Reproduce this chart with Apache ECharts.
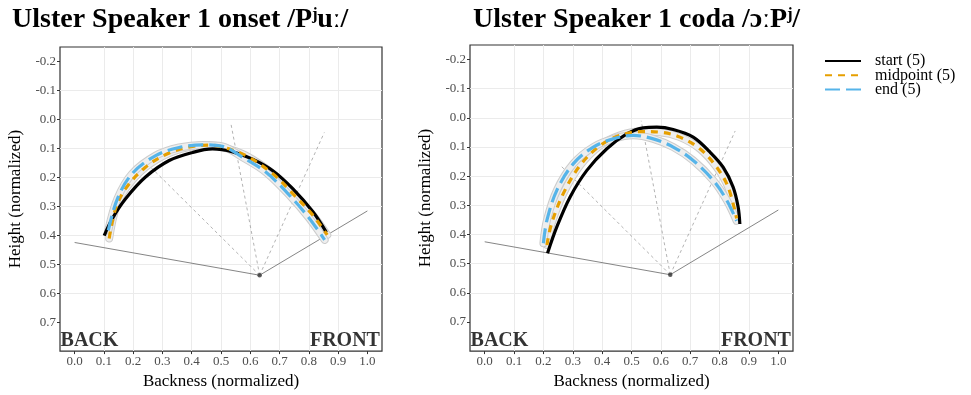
<!DOCTYPE html>
<html>
<head>
<meta charset="utf-8">
<script src="https://cdn.jsdelivr.net/npm/echarts@6/dist/echarts.min.js"></script>
<style>
html,body{margin:0;padding:0;background:#fff;}
#chart{width:971px;height:395px;}
</style>
</head>
<body>
<div id="chart"></div>
<script>
// ---------- data ----------
const titles = ['Ulster Speaker 1 onset /P\u02B2u\u02D0/', 'Ulster Speaker 1 coda /\u0254\u02D0P\u02B2/'];
const seriesNames = ['start (5)', 'midpoint (5)', 'end (5)'];
const xTicks = [0.0, 0.1, 0.2, 0.3, 0.4, 0.5, 0.6, 0.7, 0.8, 0.9, 1.0];
const yTicks = [-0.2, -0.1, 0.0, 0.1, 0.2, 0.3, 0.4, 0.5, 0.6, 0.7];

// onset panel
const onsetStart = [[0.101,0.401],[0.129,0.342],[0.174,0.274],[0.242,0.199],[0.323,0.142],[0.403,0.114],[0.471,0.102],[0.540,0.112],[0.608,0.137],[0.677,0.177],[0.745,0.239],[0.814,0.319],[0.860,0.390]];
const onsetMid = [[0.118,0.411],[0.140,0.308],[0.174,0.239],[0.242,0.165],[0.323,0.116],[0.403,0.093],[0.460,0.089],[0.500,0.094],[0.585,0.125],[0.677,0.188],[0.745,0.256],[0.814,0.331],[0.863,0.399]];
const onsetEnd = [[0.115,0.383],[0.146,0.274],[0.196,0.188],[0.277,0.125],[0.357,0.097],[0.437,0.088],[0.505,0.093],[0.574,0.131],[0.653,0.182],[0.734,0.262],[0.802,0.342],[0.854,0.416]];

// coda panel
const codaStart = [[0.214,0.464],[0.246,0.373],[0.291,0.271],[0.348,0.180],[0.416,0.106],[0.484,0.055],[0.540,0.034],[0.586,0.032],[0.642,0.040],[0.710,0.066],[0.767,0.117],[0.812,0.169],[0.846,0.237],[0.863,0.305],[0.869,0.364]];
const codaMid = [[0.212,0.436],[0.228,0.362],[0.268,0.259],[0.325,0.163],[0.393,0.095],[0.461,0.060],[0.529,0.047],[0.597,0.049],[0.665,0.066],[0.733,0.106],[0.790,0.169],[0.829,0.237],[0.858,0.345]];
const codaEnd = [[0.200,0.430],[0.212,0.351],[0.246,0.248],[0.302,0.157],[0.370,0.100],[0.438,0.072],[0.506,0.060],[0.574,0.072],[0.642,0.100],[0.710,0.146],[0.778,0.214],[0.824,0.282],[0.858,0.353]];

// vowel-space frame (same in both panels)
const origin = [0.632, 0.538];
const floorLine = [[0.0, 0.425], [0.632, 0.538], [1.0, 0.316]];
const rayEnds = [[0.258, 0.163], [0.533, 0.010], [0.853, 0.045]];
const cornerLabels = [{text: 'BACK', pos: [-0.048, 0.765], side: 'right'}, {text: 'FRONT', pos: [1.043, 0.765], side: 'left'}];

const panelCurves = [[onsetStart, onsetMid, onsetEnd], [codaStart, codaMid, codaEnd]];

// ---------- styling ----------
const FONT = "'Liberation Serif', 'DejaVu Serif', serif";
const grids = [
  {left: 60, top: 47, width: 322, height: 306},
  {left: 470, top: 45, width: 323, height: 308}
];
const curveStyles = [
  {color: '#000000', width: 3.2, type: 'solid'},
  {color: '#E69F00', width: 3.2, type: [7, 6]},
  {color: '#56B4E9', width: 3.2, type: [15, 6]}
];

const option = {
  animation: false,
  backgroundColor: '#ffffff',
  title: [
    {text: titles[0], left: 7, top: 1, textStyle: {fontFamily: FONT, fontSize: 28, fontWeight: 'bold', color: '#000'}},
    {text: titles[1], left: 468, top: 1, textStyle: {fontFamily: FONT, fontSize: 28, fontWeight: 'bold', color: '#000'}}
  ],
  legend: {
    data: seriesNames,
    orient: 'vertical',
    left: 824,
    top: 53,
    padding: 0,
    itemWidth: 36,
    itemHeight: 14,
    itemGap: -1.7,
    itemStyle: {opacity: 0},
    textStyle: {fontFamily: FONT, fontSize: 16, lineHeight: 14, color: '#000', padding: [0, 0, 0, 9]}
  },
  grid: grids.map(g => Object.assign({show: true, borderColor: '#333', borderWidth: 1.2, backgroundColor: '#fff', containLabel: false}, g)),
  xAxis: grids.map((g, i) => ({
    gridIndex: i, type: 'value', min: -0.05, max: 1.05, interval: 0.05, position: 'bottom',
    axisLine: {show: false, onZero: false},
    axisTick: {show: true, customValues: xTicks, length: 3, lineStyle: {color: '#333', width: 1}},
    axisLabel: {customValues: xTicks, formatter: v => v.toFixed(1), color: '#4d4d4d', fontFamily: FONT, fontSize: 13, margin: 4},
    splitLine: {show: true, showMinLine: false, showMaxLine: false, lineStyle: {color: '#ebebeb', width: 1}},
    name: 'Backness (normalized)', nameLocation: 'middle', nameGap: 21,
    nameTextStyle: {fontFamily: FONT, fontSize: 17, color: '#000'}
  })),
  yAxis: grids.map((g, i) => ({
    gridIndex: i, type: 'value', inverse: true, min: -0.25, max: 0.8, interval: 0.05, position: 'left',
    axisLine: {show: false, onZero: false},
    axisTick: {show: true, customValues: yTicks, length: 3, lineStyle: {color: '#333', width: 1}},
    axisLabel: {customValues: yTicks, formatter: v => (Math.abs(v) < 1e-9 ? 0 : v).toFixed(1), color: '#4d4d4d', fontFamily: FONT, fontSize: 13, margin: 4},
    splitLine: {show: true, showMinLine: false, showMaxLine: false, lineStyle: {color: '#ebebeb', width: 1}},
    name: 'Height (normalized)', nameLocation: 'middle', nameGap: 36, nameRotate: 90,
    nameTextStyle: {fontFamily: FONT, fontSize: 17, color: '#000'}
  })),
  series: []
};

grids.forEach((g, i) => {
  const ax = {xAxisIndex: i, yAxisIndex: i};
  // floor lines
  option.series.push(Object.assign({
    type: 'line', data: floorLine, symbol: 'none', silent: true, z: 2,
    lineStyle: {color: '#666', width: 0.8}
  }, ax));
  // rays
  rayEnds.forEach(e => {
    option.series.push(Object.assign({
      type: 'line', data: [origin, e], symbol: 'none', silent: true, z: 2,
      lineStyle: {color: '#a0a0a0', width: 0.8, type: [3, 3]}
    }, ax));
  });
  // origin point
  option.series.push(Object.assign({
    type: 'scatter', data: [origin], symbol: 'circle', symbolSize: 4.5, silent: true, z: 3,
    itemStyle: {color: '#333'}
  }, ax));
  // ribbons for midpoint & end
  [1, 2].forEach(k => {
    option.series.push(Object.assign({
      type: 'line', data: panelCurves[i][k], symbol: 'none', smooth: 0.35, silent: true, z: 3,
      lineStyle: {color: '#cccccc', width: 8, cap: 'round'}
    }, ax));
    option.series.push(Object.assign({
      type: 'line', data: panelCurves[i][k], symbol: 'none', smooth: 0.35, silent: true, z: 3,
      lineStyle: {color: '#eeeeee', width: 6, cap: 'round'}
    }, ax));
  });
  // curves
  [0, 1, 2].forEach(k => {
    option.series.push(Object.assign({
      name: seriesNames[k], type: 'line', data: panelCurves[i][k], symbol: 'none', smooth: 0.35, z: 4,
      itemStyle: {color: curveStyles[k].color, opacity: 0},
      lineStyle: {color: curveStyles[k].color, width: curveStyles[k].width, type: curveStyles[k].type, cap: 'butt', opacity: 1}
    }, ax));
  });
  // corner labels
  cornerLabels.forEach(c => {
    option.series.push(Object.assign({
      type: 'scatter', data: [c.pos], symbolSize: 0, silent: true, z: 5,
      label: {show: true, formatter: c.text, position: c.side, distance: 0,
        fontFamily: FONT, fontSize: 20, fontWeight: 'bold', color: '#000'}
    }, ax));
  });
});

const chart = echarts.init(document.getElementById('chart'), null, {renderer: 'canvas'});
chart.setOption(option);
</script>
</body>
</html>
